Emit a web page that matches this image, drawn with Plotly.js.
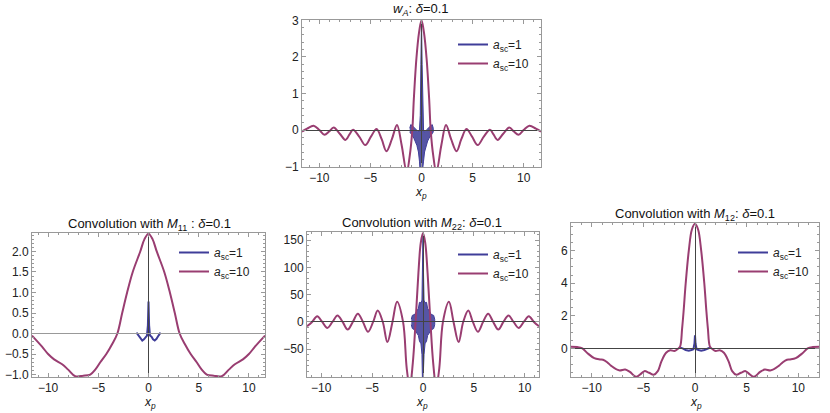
<!DOCTYPE html>
<html>
<head>
<meta charset="utf-8">
<script src="https://cdn.plot.ly/plotly-3.0.1.min.js"></script>
<style>html,body{margin:0;padding:0;background:#fff}#chart{width:830px;height:413px}</style>
</head>
<body>
<div id="chart"></div>
<script>
// ---------- data ----------
// top: w_A
const wA_x = [-11.7,-11.2,-10.56,-10.0,-9.5,-9.05,-8.6,-8.0,-7.45,-7.05,-6.7,-6.1,-5.5,-4.95,-4.4,-3.9,-3.43,-2.9,-2.4,-1.95,-1.45,-1.15,-0.9,-0.75,-0.5,-0.25,0,0.25,0.5,0.75,0.9,1.15,1.45,1.95,2.4,2.9,3.43,3.9,4.4,4.95,5.5,6.1,6.7,7.05,7.45,8.0,8.6,9.05,9.5,10.0,10.56,11.2,11.7];
const wA_a10 = [-0.04,0.04,0.12,0.0,-0.13,-0.04,0.07,-0.1,-0.27,-0.12,0.01,-0.18,-0.41,-0.18,0.03,-0.25,-0.58,-0.25,0.14,-0.4,-1.15,-0.7,0,0.85,1.95,2.65,3.0,2.65,1.95,0.85,0,-0.7,-1.15,-0.4,0.14,-0.25,-0.58,-0.25,0.03,-0.18,-0.41,-0.18,0.01,-0.12,-0.27,-0.1,0.07,-0.04,-0.13,0.0,0.12,0.04,-0.04];
// a_sc=1 oscillates too fast to resolve: its upper and lower envelope
const wA_bx = [-1.15,-1.05,-0.9,-0.75,-0.6,-0.45,-0.3,-0.2,-0.12,-0.06,0,0.06,0.12,0.2,0.3,0.45,0.6,0.75,0.9,1.05,1.15];
const wA_a1_hi = [0.05,0.15,0.12,0.08,0.03,-0.02,-0.05,0.0,0.4,1.8,3.0,1.8,0.4,0.0,-0.05,-0.02,0.03,0.08,0.12,0.15,0.05];
const wA_a1_lo = [-0.05,-0.1,-0.15,-0.22,-0.3,-0.42,-0.6,-0.85,-1.2,-1.2,-1.2,-1.2,-1.2,-0.85,-0.6,-0.42,-0.3,-0.22,-0.15,-0.1,-0.05];

// bottom left: M11
const m11_x = [-11.6,-10.6,-10.0,-9.4,-8.6,-8.0,-7.3,-6.5,-5.8,-5.3,-4.8,-4.2,-3.6,-3.1,-2.62,-2.13,-1.57,-0.82,-0.4,0,0.4,0.82,1.57,2.13,2.62,3.1,3.6,4.2,4.8,5.3,5.8,6.5,7.3,8.0,8.6,9.4,10.0,10.6,11.6];
const m11_a10 = [-0.05,-0.32,-0.5,-0.63,-0.75,-0.88,-1.04,-1.03,-1.0,-0.88,-0.7,-0.5,-0.25,0,0.5,1.0,1.5,2.0,2.3,2.43,2.3,2.0,1.5,1.0,0.5,0,-0.25,-0.5,-0.7,-0.88,-1.0,-1.03,-1.04,-0.88,-0.75,-0.63,-0.5,-0.32,-0.05];
const m11_x1 = [-1.2,-1.0,-0.8,-0.62,-0.45,-0.3,-0.15,-0.06,0,0.06,0.15,0.3,0.45,0.62,0.8,1.0,1.2];
const m11_a1 = [0.02,-0.05,-0.13,-0.17,-0.14,-0.08,-0.05,0.2,0.78,0.2,-0.05,-0.08,-0.14,-0.17,-0.13,-0.05,0.02];

// bottom middle: M22
const m22_x = [-11.4,-10.9,-10.4,-9.9,-9.4,-8.9,-8.4,-7.9,-7.4,-6.9,-6.4,-5.9,-5.4,-4.9,-4.45,-3.95,-3.5,-3.0,-2.55,-1.96,-1.6,-1.3,-1.0,-0.73,-0.45,-0.22,0,0.22,0.45,0.73,1.0,1.3,1.6,1.96,2.55,3.0,3.5,3.95,4.45,4.9,5.4,5.9,6.4,6.9,7.4,7.9,8.4,8.9,9.4,9.9,10.4,10.9,11.4];
const m22_a10 = [-8,0,10.4,0,-11,0,12,0,-14,0,15,0,-18,0,21,0,-37,0,37,0,-85,-120,-75,0,90,145,163,145,90,0,-75,-120,-85,0,37,0,-37,0,21,0,-18,0,15,0,-14,0,12,0,-11,0,10.4,0,-8];
const m22_bx = [-1.15,-1.05,-0.8,-0.6,-0.45,-0.35,-0.2,-0.1,-0.05,0,0.05,0.1,0.2,0.35,0.45,0.6,0.8,1.05,1.15];
const m22_a1_hi = [5,12,14,20,25,36,35,40,90,163,90,40,35,36,25,20,14,12,5];
const m22_a1_lo = [-5,-12,-15,-20,-25,-35,-40,-60,-110,-110,-110,-60,-40,-35,-25,-20,-15,-12,-5];

// bottom right: M12
const m12_x = [-12.0,-11.4,-10.9,-10.4,-9.75,-9.2,-8.9,-8.5,-8.1,-7.35,-6.75,-6.3,-5.7,-5.3,-4.9,-4.45,-4.0,-3.6,-3.25,-2.8,-2.4,-2.0,-1.7,-1.45,-1.25,-1.1,-0.9,-0.6,-0.3,0,0.3,0.6,0.9,1.1,1.25,1.45,1.7,2.0,2.4,2.8,3.25,3.6,4.0,4.45,4.9,5.3,5.7,6.3,6.75,7.35,8.1,8.5,8.9,9.2,9.75,10.4,10.9,11.4,12.0];
const m12_a10 = [0.1,0.08,0.0,-0.3,-0.6,-0.68,-0.7,-0.85,-1.08,-1.35,-1.3,-1.45,-1.75,-1.6,-1.4,-1.5,-1.62,-1.4,-0.8,-0.27,-0.12,-0.16,-0.05,0.1,1.2,2.3,4.0,6.0,7.3,7.65,7.3,6.0,4.0,2.3,1.2,0.1,-0.05,-0.16,-0.12,-0.27,-0.8,-1.4,-1.62,-1.5,-1.4,-1.6,-1.75,-1.45,-1.3,-1.35,-1.08,-0.85,-0.7,-0.68,-0.6,-0.3,0.0,0.08,0.1];
const m12_x1 = [-1.5,-1.2,-0.9,-0.6,-0.35,-0.15,-0.05,0,0.05,0.15,0.35,0.6,0.9,1.2,1.5];
const m12_a1 = [0.05,0.0,-0.1,-0.15,-0.1,-0.05,0.3,0.8,0.3,-0.05,-0.1,-0.15,-0.1,0.0,0.05];

// tick labels
const yt_wA = [-1, 0, 1, 2, 3];
const yt_m11 = [-1.0, -0.5, 0.0, 0.5, 1.0, 1.5, 2.0];
const yt_m22 = [-50, 0, 50, 100, 150];
const yt_m12 = [0, 2, 4, 6];
const xt_all = [-10, -5, 0, 5, 10];

const names = ['<i>a</i><sub>sc</sub>=1', '<i>a</i><sub>sc</sub>=10'];

// ---------- styling ----------
const C1 = 'rgb(63,61,153)', C2 = 'rgb(153,61,113)';
const FONT = 'Liberation Sans, Arial, Helvetica, sans-serif';
const W = 830, H = 413;
const px = v => v / W, py = v => 1 - v / H;

function band(xs, hi, lo, xa, ya) {
  return {x: xs.concat(xs.slice().reverse()), y: hi.concat(lo.slice().reverse()),
    xaxis: xa, yaxis: ya, mode: 'lines', fill: 'toself', fillcolor: 'rgba(63,61,153,0.88)',
    line: {color: C1, width: 1}, showlegend: false, hoverinfo: 'skip'};
}
function legendLine(color, name, xa, ya, leg) {
  return {x: [null], y: [null], xaxis: xa, yaxis: ya, mode: 'lines', line: {color, width: 2}, name, legend: leg};
}
function curve(xs, ys, color, name, xa, ya, leg, shape) {
  return {x: xs, y: ys, xaxis: xa, yaxis: ya, mode: 'lines',
    line: {color, width: 2, shape: shape || 'spline', smoothing: 1}, name, legend: leg, showlegend: !!name};
}

const traces = [
  band(wA_bx, wA_a1_hi, wA_a1_lo, 'x', 'y'),
  legendLine(C1, names[0], 'x', 'y', 'legend'),
  curve(wA_x, wA_a10, C2, names[1], 'x', 'y', 'legend'),

  curve(m11_x1, m11_a1, C1, names[0], 'x2', 'y2', 'legend2', 'linear'),
  curve(m11_x, m11_a10, C2, names[1], 'x2', 'y2', 'legend2'),

  band(m22_bx, m22_a1_hi, m22_a1_lo, 'x3', 'y3'),
  legendLine(C1, names[0], 'x3', 'y3', 'legend3'),
  curve(m22_x, m22_a10, C2, names[1], 'x3', 'y3', 'legend3'),

  curve(m12_x1, m12_a1, C1, names[0], 'x4', 'y4', 'legend4', 'linear'),
  curve(m12_x, m12_a10, C2, names[1], 'x4', 'y4', 'legend4'),
];

function axis(dom, range, vals, mdtick, anchor, opts) {
  return Object.assign({
    domain: dom, range, tickmode: 'array', tickvals: vals, anchor,
    ticks: 'inside', ticklen: 4, tickcolor: '#999', tickwidth: 1,
    showline: true, linecolor: '#999', linewidth: 1, mirror: 'allticks',
    showgrid: false, zeroline: true, zerolinecolor: '#444', zerolinewidth: 1,
    zerolinelayer: 'above traces',
    minor: {ticks: 'inside', ticklen: 2, dtick: mdtick, tick0: 0, tickcolor: '#999'},
    tickfont: {family: FONT, size: 12, color: '#222'}, fixedrange: true
  }, opts || {});
}

function leg(x, y) {
  return {x: px(x), y: py(y), xanchor: 'left', yanchor: 'top', bgcolor: 'rgba(0,0,0,0)',
    font: {family: FONT, size: 12, color: '#222'}, traceorder: 'normal', borderwidth: 0};
}
function ttl(text, x, y, size) {
  return {text, x: px(x), y: py(y), xref: 'paper', yref: 'paper', showarrow: false,
    xanchor: 'center', yanchor: 'middle', font: {family: FONT, size: size || 13, color: '#111'}};
}
const XP = '<i>x</i><sub><i>p</i></sub>';

const layout = {
  width: W, height: H, margin: {l: 0, r: 0, t: 0, b: 0}, paper_bgcolor: '#fff', plot_bgcolor: '#fff',
  font: {family: FONT},
  xaxis:  axis([px(302), px(541)], [-11.7, 11.7], xt_all, 1, 'y'),
  yaxis:  axis([py(167), py(20)], [-1.01, 3.01], yt_wA, 0.2, 'x'),
  xaxis2: axis([px(32), px(265)], [-11.6, 11.6], xt_all, 1, 'y2'),
  yaxis2: axis([py(377), py(233)], [-1.06, 2.45], yt_m11, 0.1, 'x2', {tickformat: '.1f', zerolinecolor: '#999'}),
  xaxis3: axis([px(307), px(539)], [-11.4, 11.4], xt_all, 1, 'y3'),
  yaxis3: axis([py(377), py(232)], [-101, 165], yt_m22, 10, 'x3'),
  xaxis4: axis([px(571), px(819)], [-12, 12], xt_all, 1, 'y4'),
  yaxis4: axis([py(377), py(223)], [-1.76, 7.7], yt_m12, 0.5, 'x4'),
  legend:  leg(453, 30),
  legend2: leg(174, 238),
  legend3: leg(453, 240),
  legend4: leg(733, 238),
  annotations: [
    ttl('<i>w</i><sub><i>A</i></sub>: <i>δ</i>=0.1', 421, 9),
    ttl('Convolution with <i>M</i><sub>11</sub> : <i>δ</i>=0.1', 149, 224),
    ttl('Convolution with <i>M</i><sub>22</sub>: <i>δ</i>=0.1', 422, 223),
    ttl('Convolution with <i>M</i><sub>12</sub>: <i>δ</i>=0.1', 695, 214),
    ttl(XP, 421, 193, 12),
    ttl(XP, 150, 403, 12),
    ttl(XP, 422, 403, 12),
    ttl(XP, 696, 403, 12)
  ]
};

Plotly.newPlot('chart', traces, layout, {staticPlot: true, displayModeBar: false});
</script>
</body>
</html>
